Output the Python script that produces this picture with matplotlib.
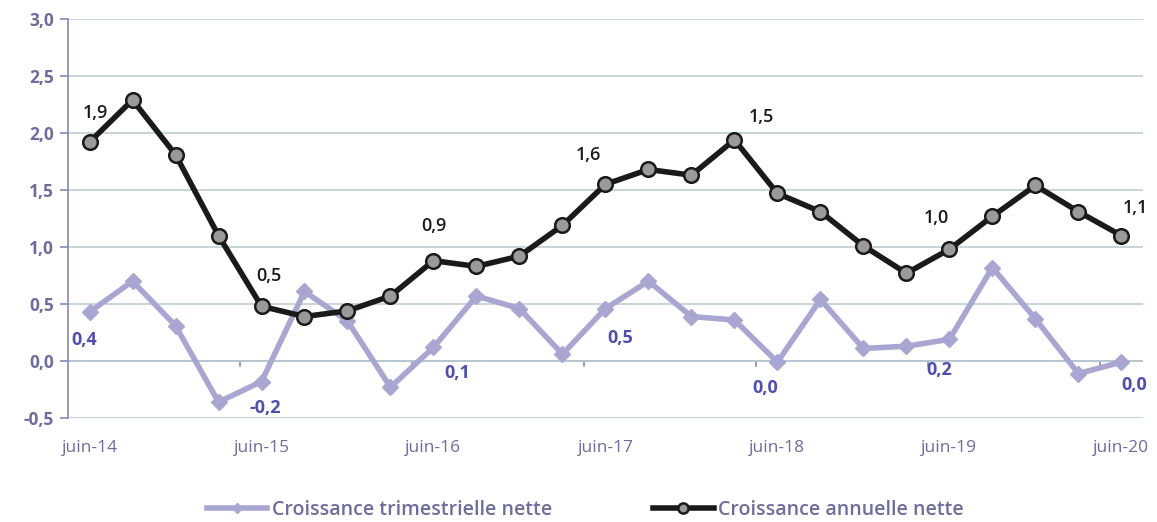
import matplotlib as mpl
import matplotlib.pyplot as plt
import numpy as np

mpl.use("Agg")

# données (trimestres de juin-14 à juin-20)
quarters = list(range(25))
tick_labels = ["juin-14", "juin-15", "juin-16", "juin-17", "juin-18", "juin-19", "juin-20"]
tick_pos = [0, 4, 8, 12, 16, 20, 24]

trimestrielle = [0.43, 0.70, 0.31, -0.36, -0.18, 0.61, 0.35, -0.23, 0.12, 0.57,
                 0.46, 0.06, 0.46, 0.70, 0.39, 0.36, -0.01, 0.54, 0.11, 0.13,
                 0.19, 0.82, 0.37, -0.11, -0.01]
annuelle = [1.92, 2.29, 1.81, 1.10, 0.48, 0.39, 0.44, 0.57, 0.88, 0.83,
            0.92, 1.19, 1.55, 1.68, 1.63, 1.94, 1.47, 1.31, 1.01, 0.77,
            0.98, 1.27, 1.54, 1.31, 1.10]

# étiquettes affichées (index, texte, décalage en pixels)
labels_annuelle = [(0, "1,9", (6, 29)), (4, "0,5", (7, 30)), (8, "0,9", (0, 35)),
                   (12, "1,6", (-17, 29)), (16, "1,5", (-16, 76)), (20, "1,0", (-13, 31)),
                   (24, "1,1", (14, 28))]
labels_trim = [(0, "0,4", (-5, -28)), (4, "-0,2", (4, -26)), (8, "0,1", (24, -26)),
               (12, "0,5", (15, -29)), (16, "0,0", (-12, -26)), (20, "0,2", (-10, -31)),
               (24, "0,0", (13, -23))]

FONT = "Open Sans"
AXIS_COL = "#8A87B8"
TEXT_COL = "#6F6C9E"
PURPLE = "#A9A6D2"
LABEL_BLUE = "#4F4FB0"

plt.rcParams["font.family"] = [FONT, "DejaVu Sans"]

fig = plt.figure(figsize=(11.57, 5.22), dpi=100)
ax = fig.add_axes([0.0588, 0.1992, 0.9290, 0.7644])

ax.plot(quarters, trimestrielle, color=PURPLE, lw=4, marker="D", ms=8,
        mfc=PURPLE, mec=PURPLE, label="Croissance trimestrielle nette", zorder=3)
ax.plot(quarters, annuelle, color="#1a1a1a", lw=4, marker="o", ms=10.5,
        mfc="#9a9a9a", mec="#1a1a1a", mew=1.8, label="Croissance annuelle nette", zorder=4)

for i, txt, off in labels_annuelle:
    ax.annotate(txt, (quarters[i], annuelle[i]), xytext=off, textcoords="offset pixels",
                ha="center", va="center", fontsize=13, fontweight="semibold", color="#1a1a1a")
for i, txt, off in labels_trim:
    ax.annotate(txt, (quarters[i], trimestrielle[i]), xytext=off, textcoords="offset pixels",
                ha="center", va="center", fontsize=13, fontweight="bold", color=LABEL_BLUE)

ax.set_xlim(-0.5, 24.5)
ax.set_ylim(-0.5, 3.0)
yt = np.arange(-0.5, 3.01, 0.5)
ax.set_yticks(yt)
ax.set_yticklabels([f"{v:.1f}".replace(".", ",") for v in yt], fontsize=12.5,
                   fontweight="bold", color=TEXT_COL)
ax.set_xticks(tick_pos)
ax.set_xticklabels(tick_labels, fontsize=12.5, color=TEXT_COL)
ax.tick_params(axis="x", length=0, pad=16)
ax.tick_params(axis="y", length=6, color=AXIS_COL, width=1.2, pad=4)

ax.grid(True, axis="y", color="#BCD0D2", lw=1.2, zorder=0)
ax.axhline(0, color=AXIS_COL, lw=1.2, zorder=1)
for x in np.arange(3.5, 24, 4):
    ax.plot([x, x], [0, -0.045], color=AXIS_COL, lw=1.2, zorder=1, clip_on=False)

for s in ["top", "right", "bottom"]:
    ax.spines[s].set_visible(False)
ax.spines["left"].set_color(AXIS_COL)
ax.spines["left"].set_linewidth(1.2)

leg = fig.legend(loc="lower center", ncol=2, bbox_to_anchor=(0.506, -0.03), frameon=False,
                 fontsize=14, handlelength=3.1, columnspacing=5.2, handletextpad=0.25,
                 markerscale=0.7)
for t in leg.get_texts():
    t.set_color(TEXT_COL)
    t.set_fontweight("semibold")

fig.savefig("out.png", dpi=100)
